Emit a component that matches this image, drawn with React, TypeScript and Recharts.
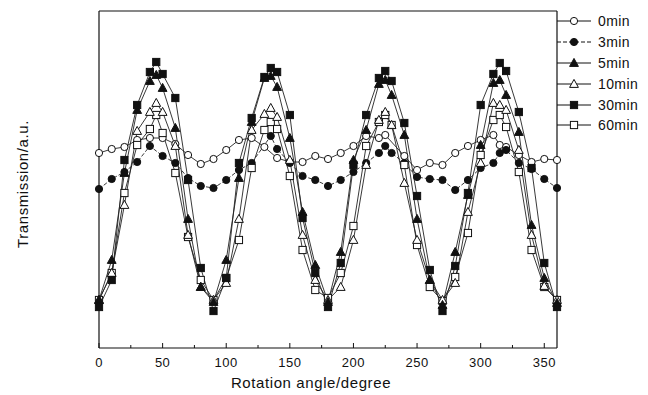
import { Label, Line, LineChart, ReferenceLine, XAxis, YAxis } from "recharts";

const FONT = '"Liberation Sans", Arial, sans-serif';

// rotation angle in degrees
const angles = [
  0, 10, 20, 30, 40, 45, 50, 60, 70, 80,
  90, 100, 110, 120, 130, 135, 140, 150, 160, 170,
  180, 190, 200, 210, 220, 225, 230, 240, 250, 260,
  270, 280, 290, 300, 310, 315, 320, 330, 340, 350,
  360,
];

// transmission, arbitrary units (null = no point measured)
const min0 = [
  195, 199, 201, 208, 210, null, 210, 204, 193, 184,
  189, 198, 208, 210, 201, null, 190, 186, 186, 192,
  189, 195, 202, 212, 210, 213, null, 192, 178, 185,
  183, 195, 202, 208, 213, 203, 201, 193, 186, 189,
  188,
];
const min3 = [
  159, 169, 176, 186, 202, null, 192, 185, 170, 162,
  160, 168, 178, 185, null, 212, 199, 185, 172, 168,
  162, 168, 176, 185, 195, 202, 195, 185, 171, 169,
  168, 158, 168, 180, 185, 195, 198, 185, 179, 169,
  160,
];
const min5 = [
  48, 88, 175, 238, 267, 273, 260, 220, 129, 61,
  46, 88, 170, 226, 270, 272, 261, 210, 136, 83,
  46, 96, 188, 218, 264, 268, 253, 213, 129, 68,
  43, 96, 153, 203, 265, 268, 253, 216, 123, 70,
  45,
];
const min10 = [
  48, 75, 143, 217, 236, 245, 236, 202, 113, 61,
  48, 65, 129, 218, 234, 240, 231, 188, 113, 68,
  48, 61, 108, 183, 228, 236, 223, 165, 108, 68,
  48, 65, 136, 185, 245, 243, 238, 198, 113, 62,
  48,
];
const min30 = [
  41, 68, 188, 243, 276, 286, 274, 250, 168, 80,
  37, 70, 185, 230, 271, 280, 276, 233, 130, 75,
  41, 85, 183, 233, 270, 277, 267, 225, 152, 78,
  37, 82, 155, 243, 274, 285, 277, 236, 180, 85,
  41,
];
const min60 = [
  48, 75, 155, 203, 219, 233, 215, 175, 111, 68,
  48, 70, 108, 180, 218, 226, 219, 172, 98, 58,
  50, 75, 122, 202, 226, 233, 223, 183, 103, 61,
  47, 71, 115, 193, 228, 233, 221, 176, 98, 61,
  48,
];

const xTicks = [0, 25, 50, 75, 100, 125, 150, 175, 200, 225, 250, 275, 300, 325, 350];
const X_MAX = 360;
const Y_MAX = 337;

type Shape = "circle" | "triangle" | "square";

type Series = {
  key: string;
  name: string;
  values: (number | null)[];
  shape: Shape;
  filled: boolean;
  dash?: string;
};

const series: Series[] = [
  { key: "m0", name: "0min", values: min0, shape: "circle", filled: false },
  { key: "m3", name: "3min", values: min3, shape: "circle", filled: true, dash: "4 2" },
  { key: "m5", name: "5min", values: min5, shape: "triangle", filled: true },
  { key: "m10", name: "10min", values: min10, shape: "triangle", filled: false },
  { key: "m30", name: "30min", values: min30, shape: "square", filled: true },
  { key: "m60", name: "60min", values: min60, shape: "square", filled: false },
];

// draw order: flat curves first, strongest peaks last
const drawOrder = ["m0", "m3", "m60", "m10", "m5", "m30"];

const data = angles.map((angle, i) => {
  const row: Record<string, number | null> = { angle };
  series.forEach((s) => {
    row[s.key] = s.values[i];
  });
  return row;
});

function Marker({
  shape,
  filled,
  cx,
  cy,
}: {
  shape: Shape;
  filled: boolean;
  cx: number;
  cy: number;
}) {
  const fill = filled ? "#111" : "#fff";
  if (shape === "circle") {
    return <circle cx={cx} cy={cy} r={3.6} fill={fill} stroke="#111" strokeWidth={1} />;
  }
  if (shape === "square") {
    return (
      <rect x={cx - 3.6} y={cy - 3.6} width={7.2} height={7.2} fill={fill} stroke="#111" strokeWidth={1} />
    );
  }
  return (
    <polygon
      points={`${cx},${cy - 4.6} ${cx - 4.4},${cy + 3.4} ${cx + 4.4},${cy + 3.4}`}
      fill={fill}
      stroke="#111"
      strokeWidth={1}
    />
  );
}

function AngleTick(props: any) {
  const { x, y, payload } = props;
  const major = payload.value % 50 === 0;
  return (
    <g>
      <line x1={x} y1={y} x2={x} y2={y - (major ? 5 : 3)} stroke="#111" strokeWidth={1} />
      {major && (
        <text
          x={x}
          y={y + 19}
          textAnchor="middle"
          fontFamily={FONT}
          fontSize={13}
          fill="#111"
          letterSpacing={0.5}
        >
          {payload.value}
        </text>
      )}
    </g>
  );
}

function SideLegend() {
  return (
    <div style={{ position: "absolute", left: 557, top: 11, fontFamily: FONT }}>
      {series.map((s) => (
        <div key={s.key} style={{ display: "flex", alignItems: "center", height: 20.8 }}>
          <svg width={36} height={20} style={{ display: "block" }}>
            <line x1={0} y1={10} x2={34} y2={10} stroke="#111" strokeWidth={1} strokeDasharray={s.dash} />
            <Marker shape={s.shape} filled={s.filled} cx={17} cy={10} />
          </svg>
          <span style={{ marginLeft: 5, fontSize: 14, color: "#111", letterSpacing: 0.4 }}>{s.name}</span>
        </div>
      ))}
    </div>
  );
}

export default function App() {
  return (
    <div style={{ position: "relative", width: 648, height: 395, background: "#fff" }}>
      <style>{"body{margin:0}"}</style>
      <LineChart
        width={648}
        height={395}
        data={data}
        margin={{ top: 11, right: 91, bottom: 0, left: 0 }}
      >
        <XAxis
          dataKey="angle"
          type="number"
          domain={[0, X_MAX]}
          ticks={xTicks}
          interval={0}
          tickSize={0}
          tickMargin={0}
          tickLine={false}
          tick={AngleTick}
          height={47}
          axisLine={{ stroke: "#111", strokeWidth: 1.2 }}
        >
          <Label
            content={() => (
              <text x={311} y={388} textAnchor="middle" fontFamily={FONT} fontSize={15} fill="#111" letterSpacing={0.6}>
                Rotation angle/degree
              </text>
            )}
          />
        </XAxis>
        <YAxis
          type="number"
          domain={[0, Y_MAX]}
          width={99}
          tick={false}
          tickLine={false}
          axisLine={{ stroke: "#111", strokeWidth: 1.2 }}
        >
          <Label
            content={() => (
              <text
                transform="translate(22,184) rotate(-90)"
                textAnchor="middle"
                dominantBaseline="central"
                fontFamily={FONT}
                fontSize={15}
                fill="#111"
                letterSpacing={0.6}
              >
                Transmission/a.u.
              </text>
            )}
          />
        </YAxis>
        {/* frame: top and right borders */}
        <ReferenceLine y={Y_MAX} stroke="#111" strokeWidth={1.2} ifOverflow="extendDomain" />
        <ReferenceLine x={X_MAX} stroke="#111" strokeWidth={1.2} ifOverflow="extendDomain" />
        {drawOrder.map((k) => {
          const s = series.find((item) => item.key === k)!;
          return (
            <Line
              key={s.key}
              dataKey={s.key}
              name={s.name}
              type="linear"
              stroke="#222"
              strokeWidth={0.9}
              strokeDasharray={s.dash}
              connectNulls
              isAnimationActive={false}
              activeDot={false}
              dot={(p: any) =>
                p.cx == null || p.cy == null || p.value == null ? (
                  <g key={`${s.key}-${p.index}`} />
                ) : (
                  <Marker key={`${s.key}-${p.index}`} shape={s.shape} filled={s.filled} cx={p.cx} cy={p.cy} />
                )
              }
            />
          );
        })}
      </LineChart>
      <SideLegend />
    </div>
  );
}
